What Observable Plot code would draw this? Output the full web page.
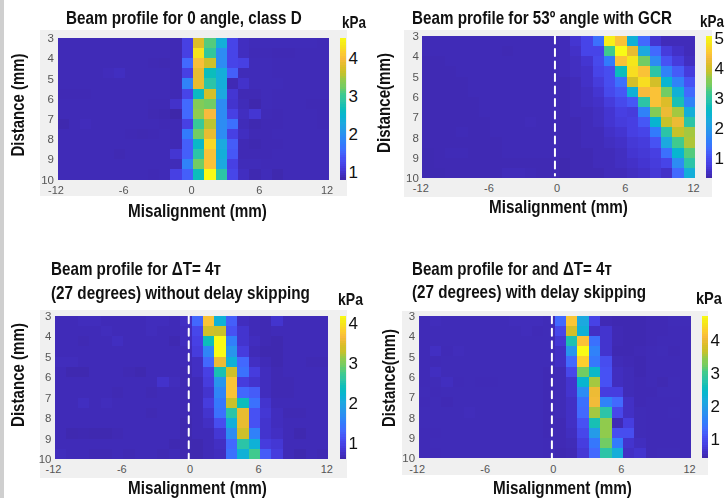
<!DOCTYPE html>
<html><head><meta charset="utf-8">
<script src="https://cdn.jsdelivr.net/npm/d3@7"></script>
<script src="https://cdn.jsdelivr.net/npm/@observablehq/plot@0.6"></script>
<style>
html,body{margin:0;padding:0;background:#fff;width:727px;height:498px;overflow:hidden}
#page{position:relative;width:727px;height:498px;font-family:"Liberation Sans",Arial,sans-serif}
#page>*{position:absolute}
.leftbar{left:0;top:0;width:4px;height:498px;background:#cfcfcf}
</style></head><body><div id="page"><div class="leftbar"></div></div>
<script>
// Pressure in kPa: 14 rows (distance 3 to 10 mm), 24 columns (misalignment -12 to 12 mm)
const classD = [
[.87,.87,.87,.87,.87,.87,.87,.87,.87,.87,.86,1.15,3.78,3.11,2.36,1.2,.92,.88,.88,.88,.88,.88,.88,.87],
[.87,.87,.87,.87,.87,.87,.87,.87,.87,.87,.86,1.15,4.31,2.92,1.91,1.2,.92,.87,.87,.86,.86,.87,.87,.87],
[.87,.87,.87,.87,.87,.87,.87,.87,.86,.85,.86,1.54,4.01,3.67,1.91,1.2,1.15,.88,.88,.87,.87,.87,.87,.87],
[.87,.87,.87,.87,.89,.92,.87,.87,.87,.87,.86,1.15,3.86,2.66,2.36,1.46,.88,.88,.88,.87,.87,.87,.87,.87],
[.87,.87,.87,.87,.87,.87,.87,.87,.87,.87,.86,1.8,3.86,2.85,2.36,.86,.97,.88,.88,.88,.87,.87,.87,.87],
[.86,.86,.86,.87,.87,.87,.87,.87,.87,.87,.86,1.2,2.59,3.71,2.29,1.03,.86,.86,.88,.87,.87,.87,.87,.87],
[.87,.87,.87,.87,.87,.87,.87,.87,.86,.86,.97,1.54,3.33,3.22,1.91,1.0,.88,.82,.88,.87,.87,.87,.86,.86],
[.87,.87,.87,.87,.87,.87,.87,.87,.85,.84,.8,1.54,3.41,3.97,1.91,1.15,.92,1.03,.87,.86,.87,.87,.87,.86],
[.83,.87,.89,.87,.87,.87,.87,.87,.87,.86,.86,1.15,2.96,3.56,1.91,1.61,.88,.84,.86,.86,.87,.87,.87,.86],
[.87,.87,.87,.87,.87,.87,.86,.85,.86,.87,.86,1.73,3.22,3.86,1.91,1.15,.92,.86,.86,.87,.87,.87,.87,.87],
[.87,.87,.87,.87,.87,.87,.87,.87,.87,.87,.86,1.46,2.55,4.23,2.29,1.43,.86,.84,.86,.86,.87,.87,.87,.87],
[.87,.87,.87,.87,.87,.85,.87,.87,.87,.87,1.03,1.46,2.85,4.04,2.36,1.39,.86,.86,.86,.87,.87,.87,.87,.87],
[.87,.87,.87,.87,.87,.87,.87,.87,.87,.87,.88,1.8,3.22,4.04,2.29,1.15,.88,.88,.87,.87,.87,.87,.87,.87],
[.87,.87,.87,.87,.87,.87,.87,.87,.86,.87,1.15,1.46,2.66,4.53,2.85,1.22,.92,.84,.88,.83,.87,.87,.87,.87]
];
const gcr53 = [
[.43,.43,.43,.43,.43,.43,.43,.43,.43,.43,.43,.43,.45,.62,.85,1.37,4.93,4.45,2.37,1.28,.62,.45,.45,.45],
[.43,.43,.43,.43,.43,.43,.43,.41,.43,.43,.43,.43,.45,.55,.85,.85,3.17,5.07,4.22,2.23,1.28,.72,.55,.45],
[.41,.41,.43,.43,.43,.43,.43,.43,.43,.43,.43,.43,.45,.5,.62,.92,1.52,4.45,4.83,3.41,1.75,1.04,.72,.5],
[.41,.41,.41,.43,.43,.43,.43,.43,.43,.43,.43,.43,.45,.5,.55,.85,.97,2.7,4.74,4.45,2.94,1.61,1.14,.72],
[.41,.41,.41,.41,.43,.43,.43,.43,.43,.43,.43,.43,.41,.45,.55,.72,.97,1.37,4.03,4.74,4.03,2.46,1.61,1.04],
[.41,.41,.41,.41,.43,.43,.43,.43,.43,.43,.43,.43,.41,.45,.5,.62,.92,1.09,2.37,4.36,4.45,3.41,2.37,1.28],
[.41,.41,.41,.41,.41,.43,.43,.43,.43,.43,.43,.43,.41,.45,.5,.55,.72,.92,1.09,2.94,4.45,4.12,2.79,1.61],
[.41,.41,.41,.41,.41,.43,.43,.43,.43,.43,.43,.43,.41,.45,.45,.5,.62,.78,.72,1.61,3.55,4.26,3.74,2.32],
[.41,.41,.41,.41,.41,.41,.43,.43,.43,.45,.43,.43,.41,.41,.45,.5,.62,.72,.78,1.09,2.46,3.89,4.26,2.94],
[.41,.41,.41,.43,.41,.41,.43,.43,.43,.43,.43,.43,.41,.41,.45,.45,.55,.62,.78,.85,1.52,2.94,3.89,3.74],
[.41,.41,.41,.41,.41,.41,.41,.43,.43,.43,.43,.43,.41,.41,.45,.45,.5,.55,.67,.72,1.04,2.23,3.17,3.79],
[.4,.41,.43,.43,.41,.41,.41,.43,.43,.43,.43,.43,.41,.41,.41,.45,.45,.5,.62,.67,.78,1.37,2.46,3.27],
[.4,.41,.41,.41,.41,.41,.41,.41,.41,.41,.41,.41,.38,.41,.41,.45,.45,.5,.55,.62,.72,.85,1.75,2.94],
[.4,.4,.41,.41,.41,.41,.41,.45,.45,.43,.41,.41,.38,.41,.41,.41,.45,.45,.5,.55,.67,.55,1.28,2.32]
];
const noSkip = [
[.68,.68,.7,.7,.68,.68,.68,.68,.7,.7,.68,.74,1.31,3.71,2.14,1.24,.71,.68,.66,.8,.68,.68,.68,.68],
[.68,.68,.68,.68,.7,.68,.68,.68,.7,.68,.68,.71,1.02,3.38,3.31,1.12,.8,.68,.66,.68,.68,.68,.68,.68],
[.68,.68,.66,.68,.68,.72,.68,.68,.68,.68,.65,.71,.95,2.39,4.17,1.53,.8,.71,.66,.64,.68,.68,.68,.68],
[.68,.68,.68,.68,.68,.68,.68,.68,.68,.68,.68,.68,.9,1.6,4.17,1.78,.9,.68,.64,.64,.68,.68,.68,.68],
[.7,.7,.68,.68,.68,.68,.68,.68,.68,.68,.68,.68,.74,1.31,3.56,2.14,1.31,.74,.68,.64,.68,.68,.66,.66],
[.68,.64,.64,.68,.68,.68,.66,.64,.68,.68,.68,.66,.74,.95,2.46,3.35,1.39,.9,.71,.66,.68,.68,.68,.68],
[.68,.68,.68,.68,.68,.68,.68,.68,.68,.78,.7,.66,.68,.9,1.78,3.71,.9,.8,.71,.66,.66,.68,.68,.68],
[.68,.68,.68,.68,.68,.66,.68,.68,.66,.68,.68,.66,.68,.8,1.6,3.71,1.31,1.21,.71,.66,.66,.68,.68,.68],
[.68,.68,.72,.68,.7,.68,.68,.68,.68,.68,.68,.66,.68,.9,1.46,3.31,2.39,1.39,.8,.68,.68,.68,.68,.68],
[.68,.68,.68,.68,.68,.68,.68,.68,.66,.68,.68,.66,.68,.8,1.39,2.56,3.53,1.12,.84,.71,.66,.66,.68,.68],
[.68,.68,.68,.68,.68,.68,.68,.68,.68,.68,.68,.64,.68,.74,1.08,2.1,3.53,1.12,.8,.71,.68,.68,.68,.68],
[.68,.64,.65,.64,.64,.66,.68,.68,.68,.68,.68,.64,.68,.68,.84,1.67,3.35,1.56,.8,.74,.68,.64,.68,.68],
[.68,.68,.68,.68,.68,.68,.68,.68,.68,.68,.65,.64,.64,.68,.74,1.31,2.56,2.14,.9,.84,.68,.68,.68,.68],
[.7,.68,.68,.66,.66,.68,.66,.68,.68,.66,.68,.64,.64,.68,.71,1.39,2.14,2.74,1.21,.9,.68,.64,.68,.66]
];
const withSkip = [
[.51,.54,.52,.52,.52,.52,.52,.52,.54,.54,.54,.52,1.28,4.21,2.14,.86,.5,.48,.48,.48,.5,.5,.52,.52],
[.51,.52,.52,.52,.52,.52,.52,.52,.52,.54,.51,.52,.93,3.78,2.27,.6,.66,.5,.48,.48,.5,.5,.51,.51],
[.51,.52,.52,.52,.52,.52,.52,.52,.52,.52,.52,.52,.72,2.7,4.17,1.37,.66,.5,.48,.48,.5,.51,.51,.51],
[.51,.58,.51,.54,.52,.52,.52,.52,.52,.52,.52,.52,.6,1.84,4.73,1.58,.66,.48,.48,.5,.51,.52,.5,.51],
[.51,.51,.52,.52,.52,.52,.52,.52,.52,.52,.52,.52,.6,1.28,4.3,1.45,1.0,.52,.5,.48,.51,.51,.51,.51],
[.51,.57,.52,.52,.52,.52,.52,.52,.52,.52,.52,.5,.52,.93,3.22,2.45,1.06,.56,.52,.48,.51,.51,.51,.51],
[.51,.52,.56,.51,.52,.51,.51,.52,.52,.52,.52,.5,.52,.66,2.36,3.52,1.06,.56,.52,.5,.51,.49,.52,.51],
[.52,.51,.52,.52,.52,.52,.52,.52,.52,.52,.52,.5,.52,.66,1.71,4.0,.8,.8,.52,.5,.5,.52,.52,.51],
[.51,.52,.5,.52,.52,.52,.52,.52,.52,.52,.52,.5,.52,.6,1.37,4.04,1.58,1.28,.6,.5,.51,.51,.51,.51],
[.52,.52,.52,.52,.54,.52,.52,.52,.52,.52,.52,.5,.52,.6,1.28,3.52,2.79,.93,.6,.52,.51,.51,.52,.51],
[.52,.52,.52,.52,.52,.52,.52,.52,.52,.52,.52,.5,.5,.6,1.06,2.66,3.44,.5,.8,.52,.51,.51,.51,.51],
[.51,.51,.52,.52,.52,.52,.52,.52,.52,.52,.52,.5,.5,.56,.93,1.93,3.44,1.0,1.0,.52,.51,.51,.51,.51],
[.51,.52,.52,.52,.52,.52,.52,.52,.52,.52,.52,.51,.5,.52,.8,1.45,3.22,1.5,.66,.56,.51,.51,.51,.51],
[.51,.51,.52,.52,.52,.52,.52,.52,.52,.52,.52,.51,.48,.5,.72,1.28,2.79,2.23,.6,.66,.51,.52,.52,.51]
];
const xTicks = [-12,-6,0,6,12];
const yTicks = [3,4,5,6,7,8,9,10];
const parula = ["#3e26a8","#4332cb","#4741e5","#4752f4","#4269fe","#327bfc","#2d8cf3","#259be8","#1ca9df","#08b5d0","#0bbdbc","#2cc4a7","#3fca8e","#72cc64","#8fcb4e","#c5c22a","#dcbd29","#f8ba3d","#fccf2d","#f5e61a","#f9fb15"];

const panels = [
 {m:classD,  domain:[.79,4.53], cb:[1,2,3,4],   gray:[40,30,347,196],  heat:[57.5,38,328.5,179.5], bar:[340,346,38,179.5], line:false},
 {m:gcr53,   domain:[.33,5.07], cb:[1,2,3,4,5], gray:[404,30,712,197], heat:[422.3,36,695,178],    bar:[706,712,36,178],   line:[-.37,9.85]},
 {m:noSkip,  domain:[.6,4.17],  cb:[1,2,3,4],   gray:[40,310,347,478], heat:[55,315.7,328.3,459],  bar:[340,346,316,459],  line:[-.3,10]},
 {m:withSkip,domain:[.42,4.73], cb:[1,2,3,4],   gray:[401.7,311,708,475],heat:[418.3,315.7,690.7,458.3],bar:[702,708,316,458],line:[-.3,10]}
];
const texts = [
 {t:"Beam profile for 0 angle, class D",x:66,y:24,w:236,s:19},
 {t:"kPa",x:342,y:28,w:24,s:16},
 {t:"Misalignment (mm)",x:128,y:217,w:139,s:19},
 {t:"Distance (mm)",x:24,y:105,w:103,s:19,r:1},
 {t:"Beam profile for 53º angle with GCR",x:412,y:24,w:260,s:19},
 {t:"kPa",x:700,y:27,w:24,s:16},
 {t:"Misalignment (mm)",x:489,y:213,w:139,s:19},
 {t:"Distance(mm)",x:390,y:103,w:100,s:19,r:1},
 {t:"Beam profile for ΔT= 4т",x:51,y:275,w:170,s:19},
 {t:"(27 degrees) without delay skipping",x:51,y:299,w:259,s:19},
 {t:"kPa",x:338,y:305,w:25,s:16},
 {t:"Misalignment (mm)",x:128,y:494,w:139,s:19},
 {t:"Distance (mm)",x:24,y:375,w:104,s:19,r:1},
 {t:"Beam profile for and ΔT= 4т",x:412,y:275,w:200,s:19},
 {t:"(27 degrees) with delay skipping",x:412,y:298,w:234,s:19},
 {t:"kPa",x:696,y:304,w:26,s:16},
 {t:"Misalignment (mm)",x:493,y:494,w:139,s:19},
 {t:"Distance(mm)",x:395,y:378,w:98,s:19,r:1}
];

const page = document.getElementById("page");
const rowH = .5, colW = 1;
panels.forEach(p => {
  const cells = p.m.flatMap((row,r) => row.map((v,c) => ({x1:-12+c*colW,x2:-12+(c+1)*colW,y1:3+r*rowH,y2:3+(r+1)*rowH,v})));
  const [gx0,gy0,gx1,gy1] = p.gray, [hx0,hy0,hx1,hy1] = p.heat;
  const color = {type:"linear",domain:p.domain,interpolate:d3.piecewise(d3.interpolateRgb,parula)};
  const marks = [
    Plot.rect(cells,{x1:"x1",x2:"x2",y1:"y1",y2:"y2",fill:"v",shapeRendering:"crispEdges"}),
    Plot.axisX({ticks:xTicks,tickSize:0,tickPadding:6,tickFormat:d=>String(d),label:null,dx:-2,fontSize:11,fill:"#555"}),
    Plot.axisY({ticks:yTicks,tickSize:0,tickPadding:4,tickFormat:d=>String(d),label:null,fontSize:11.5,fill:"#555"})
  ];
  if (p.line) marks.push(Plot.line([[p.line[0],3],[p.line[0],p.line[1]]],{x:d=>d[0],y:d=>d[1],stroke:"#fff",strokeWidth:2,strokeDasharray:"7,5.5"}));
  const chart = Plot.plot({
    width:gx1-gx0,height:gy1-gy0,
    marginLeft:hx0-gx0,marginRight:gx1-hx1,marginTop:hy0-gy0,marginBottom:gy1-hy1,
    style:{background:"#f0f0f0",fontFamily:"'Liberation Sans',Arial,sans-serif",overflow:"visible",filter:"blur(0.5px)"},
    x:{domain:[-12,12]},y:{domain:[10,3]},color,marks
  });
  chart.style.left=gx0+"px";chart.style.top=gy0+"px";chart.style.position="absolute";
  page.appendChild(chart);

  const [bx0,bx1,by0,by1] = p.bar, n = 64, step=(p.domain[1]-p.domain[0])/n;
  const steps = d3.range(n).map(i=>({a:p.domain[0]+i*step,b:p.domain[0]+(i+1)*step}));
  const bar = Plot.plot({
    width:(bx1-bx0)+2+22,height:(by1-by0)+10,marginLeft:2,marginRight:22,marginTop:5,marginBottom:5,
    style:{background:"transparent",fontFamily:"'Liberation Sans',Arial,sans-serif",overflow:"visible"},
    x:{domain:[0,1],axis:null},y:{domain:p.domain},color,
    marks:[
      Plot.rect(steps,{x1:0,x2:1,y1:"a",y2:"b",fill:d=>(d.a+d.b)/2,shapeRendering:"crispEdges"}),
      Plot.axisY({anchor:"right",ticks:p.cb,tickSize:0,tickPadding:2,tickFormat:d=>String(d),label:null,fontSize:17,fill:"#111"})
    ]
  });
  bar.style.left=(bx0-2)+"px";bar.style.top=(by0-5)+"px";bar.style.position="absolute";
  page.appendChild(bar);
});

const ns="http://www.w3.org/2000/svg";
const ov=document.createElementNS(ns,"svg");
ov.setAttribute("width",727);ov.setAttribute("height",498);ov.style.left="0";ov.style.top="0";ov.style.position="absolute";
page.appendChild(ov);
texts.forEach(d=>{
  const e=document.createElementNS(ns,"text");
  e.textContent=d.t;
  e.setAttribute("font-family","'Liberation Sans',Arial,sans-serif");
  e.setAttribute("font-weight","700");e.setAttribute("font-size",d.s);e.setAttribute("fill","#111");
  ov.appendChild(e);
  const k=d.w/e.getComputedTextLength();
  if(d.r){e.setAttribute("text-anchor","middle");e.setAttribute("transform",`translate(${d.x},${d.y}) rotate(-90) scale(${k},1)`);}
  else{e.setAttribute("transform",`translate(${d.x},${d.y}) scale(${k},1)`);}
});
</script></body></html>
